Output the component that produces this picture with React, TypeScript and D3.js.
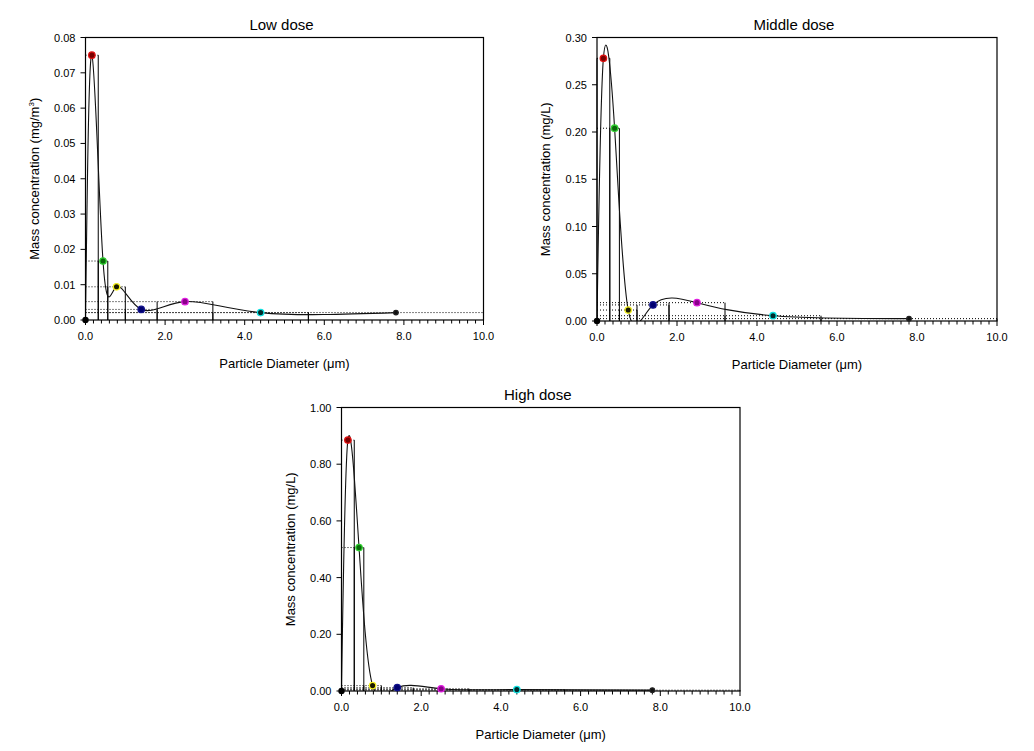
import React, { useEffect, useRef } from "react";
import * as d3 from "d3";

// impactor stage cut points (um) and the stage mid diameters
const binEdges = [0, 0.32, 0.56, 1.0, 1.8, 3.2, 5.6, 10];
const stageDiameters = [0.16, 0.44, 0.78, 1.4, 2.5, 4.4, 7.8];

// mass concentration per stage
const lowDose = [0.075, 0.0167, 0.0094, 0.003, 0.0052, 0.0021, 0.0021];
const middleDose = [0.278, 0.204, 0.0116, 0.017, 0.0194, 0.0056, 0.0025];
const highDose = [0.885, 0.506, 0.019, 0.012, 0.008, 0.005, 0.003];

const pointFill = ["#7a0000", "#0a6a0a", "#1a1a00", "#000070", "#8a008a", "#002a2a", "#111111"];
const pointStroke = ["#e01010", "#30d030", "#f4f020", "#10108a", "#e020e0", "#10e0e0", "#222222"];

const xTicks = [0, 2, 4, 6, 8, 10];
const lowTicks = [0, 0.01, 0.02, 0.03, 0.04, 0.05, 0.06, 0.07, 0.08];
const middleTicks = [0, 0.05, 0.1, 0.15, 0.2, 0.25, 0.3];
const highTicks = [0, 0.2, 0.4, 0.6, 0.8, 1.0];

const panels = [
  { title: "Low dose", values: lowDose, yTicks: lowTicks, unit: "m", box: { left: 85.5, right: 483.5, top: 37.5, bottom: 320 } },
  { title: "Middle dose", values: middleDose, yTicks: middleTicks, unit: "L", box: { left: 597, right: 997, top: 37.5, bottom: 321 } },
  { title: "High dose", values: highDose, yTicks: highTicks, unit: "L", box: { left: 341.5, right: 740, top: 407.5, bottom: 691 } },
];

const font = "'Liberation Sans', Arial, sans-serif";

const drawPanel = (svg, p, idx) => {
  const b = p.box;
  const x = d3.scaleLinear().domain([0, 10]).range([b.left, b.right]);
  const y = d3
    .scaleLinear()
    .domain([0, p.yTicks[p.yTicks.length - 1]])
    .range([b.bottom, b.top]);

  const g = svg.append("g").attr("font-family", font);

  g.append("clipPath")
    .attr("id", `clip-${idx}`)
    .append("rect")
    .attr("x", b.left)
    .attr("y", b.top)
    .attr("width", b.right - b.left)
    .attr("height", b.bottom - b.top);

  // dotted drop lines to the y axis
  p.values.forEach((v, k) => {
    g.append("line")
      .attr("x1", x(0))
      .attr("x2", x(binEdges[k + 1]))
      .attr("y1", y(v))
      .attr("y2", y(v))
      .attr("stroke", "#000")
      .attr("stroke-width", 1)
      .attr("stroke-dasharray", "1,2");
  });

  // stage bars (edges only)
  p.values.forEach((v, k) => {
    [binEdges[k], binEdges[k + 1]].forEach((e) => {
      g.append("line")
        .attr("x1", x(e))
        .attr("x2", x(e))
        .attr("y1", y(0))
        .attr("y2", y(v))
        .attr("stroke", "#000")
        .attr("stroke-width", 1);
    });
  });

  // smooth curve through the stage points
  const pts = [[0, 0], ...p.values.map((v, k) => [stageDiameters[k], v])];
  g.append("path")
    .datum(pts)
    .attr(
      "d",
      d3
        .line()
        .curve(d3.curveNatural)
        .x((d) => x(d[0]))
        .y((d) => y(d[1]))
    )
    .attr("fill", "none")
    .attr("stroke", "#111")
    .attr("stroke-width", 1.1)
    .attr("clip-path", `url(#clip-${idx})`);

  // frame
  g.append("rect")
    .attr("x", b.left)
    .attr("y", b.top)
    .attr("width", b.right - b.left)
    .attr("height", b.bottom - b.top)
    .attr("fill", "none")
    .attr("stroke", "#000")
    .attr("stroke-width", 1.2);

  // x axis ticks
  d3.range(0, 50.5).forEach((i) => {
    const v = i * 0.2;
    const major = i % 10 === 0;
    g.append("line")
      .attr("x1", x(v))
      .attr("x2", x(v))
      .attr("y1", b.bottom)
      .attr("y2", b.bottom + (major ? 5 : 3.5))
      .attr("stroke", "#000")
      .attr("stroke-width", 1);
  });
  xTicks.forEach((t) => {
    g.append("text")
      .attr("x", x(t))
      .attr("y", b.bottom + 20)
      .attr("text-anchor", "middle")
      .attr("font-size", 11)
      .text(d3.format(".1f")(t));
  });
  g.append("text")
    .attr("x", (b.left + b.right) / 2)
    .attr("y", b.bottom + 48)
    .attr("text-anchor", "middle")
    .attr("font-size", 13)
    .text("Particle Diameter (\u03bcm)");

  // y axis ticks
  p.yTicks.forEach((t) => {
    g.append("line")
      .attr("x1", b.left - 5)
      .attr("x2", b.left)
      .attr("y1", y(t))
      .attr("y2", y(t))
      .attr("stroke", "#000")
      .attr("stroke-width", 1);
    g.append("text")
      .attr("x", b.left - 10)
      .attr("y", y(t) + 4)
      .attr("text-anchor", "end")
      .attr("font-size", 11)
      .text(d3.format(".2f")(t));
  });
  const yl = g
    .append("text")
    .attr("transform", `translate(${b.left - 47},${(b.top + b.bottom) / 2}) rotate(-90)`)
    .attr("text-anchor", "middle")
    .attr("font-size", 13);
  if (p.unit === "m") {
    yl.append("tspan").text("Mass concentration (mg/m");
    yl.append("tspan").attr("font-size", 8).attr("dy", -5).text("3");
    yl.append("tspan").attr("dy", 5).text(")");
  } else {
    yl.text("Mass concentration (mg/L)");
  }

  // title
  g.append("text")
    .attr("x", (b.left + b.right) / 2 - 3)
    .attr("y", b.top - 8)
    .attr("text-anchor", "middle")
    .attr("font-size", 15)
    .text(p.title);

  // stage points
  g.append("circle")
    .attr("cx", x(0))
    .attr("cy", y(0))
    .attr("r", 3.2)
    .attr("fill", "#000");
  p.values.forEach((v, k) => {
    g.append("circle")
      .attr("cx", x(stageDiameters[k]))
      .attr("cy", y(v))
      .attr("r", k === 6 ? 2.3 : 3.2)
      .attr("fill", pointFill[k])
      .attr("stroke", pointStroke[k])
      .attr("stroke-width", 1.3);
  });
};

const App = () => {
  const ref = useRef(null);

  useEffect(() => {
    const svg = d3.select(ref.current);
    svg.selectAll("*").remove();
    panels.forEach((p, i) => drawPanel(svg, p, i));
  }, []);

  return (
    <svg
      ref={ref}
      width={1034}
      height={751}
      style={{ position: "absolute", left: 0, top: 0, background: "#fff" }}
    />
  );
};

export default App;
